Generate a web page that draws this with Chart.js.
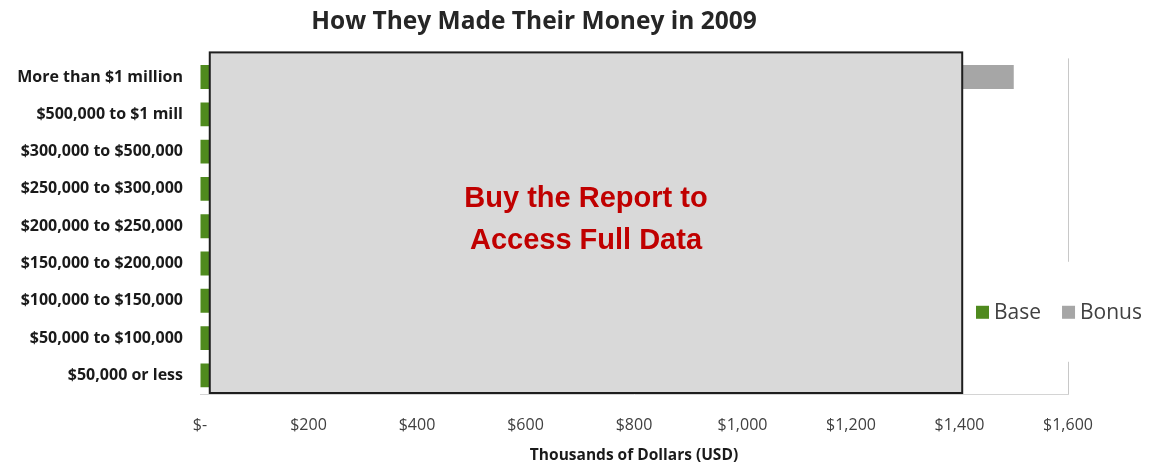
<!DOCTYPE html>
<html>
<head>
<meta charset="utf-8">
<script src="https://cdn.jsdelivr.net/npm/chart.js@4"></script>
<style>
  html, body { margin: 0; padding: 0; background: #fff; }
  #wrap { width: 1151px; height: 471px; }
</style>
</head>
<body>
<div id="wrap"><canvas id="myChart" width="1151" height="471"></canvas></div>
<script>
// salary bands, top row first
var bands = [
    "More than $1 million",
    "$500,000 to $1 mill",
    "$300,000 to $500,000",
    "$250,000 to $300,000",
    "$200,000 to $250,000",
    "$150,000 to $200,000",
    "$100,000 to $150,000",
    "$50,000 to $100,000",
    "$50,000 or less"
];
// thousands of dollars
var baseVals = [420, 330, 260, 210, 180, 150, 110, 70, 30];
var bonusVals = [1080, 340, 120, 65, 45, 28, 18, 8, 3];
var xTicks = [0, 200, 400, 600, 800, 1000, 1200, 1400, 1600];

// grey box hiding the paid data
var coverFrom = 18;
var coverTo = 1405;
var coverText = ["Buy the Report to", "Access Full Data"];

var font = "'Open Sans', Lato, sans-serif";

function money(v) {
    if (v === 0) return "$-";
    return "$" + v.toLocaleString("en-US");
}

var coverPlugin = {
    id: 'cover',
    afterDatasetsDraw: function (chart) {
        var ctx = chart.ctx;
        var x = chart.scales.x;
        var area = chart.chartArea;
        var x0 = x.getPixelForValue(coverFrom);
        var x1 = x.getPixelForValue(coverTo);
        var y0 = area.top - 6;
        var y1 = area.bottom - 1;
        ctx.save();
        ctx.fillStyle = '#d9d9d9';
        ctx.fillRect(x0, y0, x1 - x0, y1 - y0);
        ctx.strokeStyle = '#1e1e1e';
        ctx.lineWidth = 2;
        ctx.strokeRect(x0, y0, x1 - x0, y1 - y0);
        ctx.fillStyle = '#c00000';
        ctx.font = "bold 29px 'Liberation Sans', Arial, sans-serif";
        ctx.textAlign = 'center';
        ctx.textBaseline = 'middle';
        var cx = (x0 + x1) / 2;
        var cy = (y0 + y1) / 2 - 3;
        ctx.fillText(coverText[0], cx, cy - 21);
        ctx.fillText(coverText[1], cx, cy + 21);
        ctx.restore();
    }
};

// legend sits over the right edge of the plot
var legendPlugin = {
    id: 'sideLegend',
    afterDraw: function (chart) {
        var ctx = chart.ctx;
        var area = chart.chartArea;
        var cy = area.top + (area.bottom - area.top) * 0.755;
        var x = 976;
        ctx.save();
        ctx.fillStyle = '#fff';
        ctx.fillRect(970, cy - 50, 181, 100);
        ctx.font = "21px " + font;
        ctx.textBaseline = 'middle';
        chart.data.datasets.forEach(function (ds) {
            ctx.fillStyle = ds.backgroundColor;
            ctx.fillRect(x, cy - 6, 13, 13);
            ctx.fillStyle = '#404040';
            ctx.fillText(ds.label, x + 18, cy + 1);
            x += 18 + ctx.measureText(ds.label).width + 21;
        });
        ctx.restore();
    }
};

var ctx = document.getElementById('myChart').getContext('2d');
var chart = new Chart(ctx, {
    type: 'bar',
    data: {
        labels: bands,
        datasets: [{
            label: "Base",
            backgroundColor: '#4f8a1e',
            data: baseVals
        }, {
            label: "Bonus",
            backgroundColor: '#a6a6a6',
            data: bonusVals
        }]
    },
    options: {
        indexAxis: 'y',
        responsive: false,
        animation: false,
        layout: { padding: { right: 83 } },
        categoryPercentage: 1,
        barPercentage: 0.64,
        plugins: {
            legend: { display: false },
            tooltip: { enabled: false },
            title: {
                display: true,
                text: "How They Made Their Money in 2009",
                color: '#262626',
                font: { family: font, size: 24.5, weight: 'bold', lineHeight: 1.2 },
                padding: { top: 7, bottom: 22 }
            }
        },
        scales: {
            x: {
                stacked: true,
                min: 0,
                max: 1600,
                afterBuildTicks: function (scale) {
                    scale.ticks = xTicks.map(function (v) { return { value: v }; });
                },
                afterFit: function (scale) { scale.height = 77; },
                grid: {
                    drawTicks: false,
                    color: function (c) { return c.tick && c.tick.value === 1600 ? '#c8c8c8' : 'rgba(0,0,0,0)'; }
                },
                border: { display: true, color: '#d4d4d4' },
                ticks: {
                    padding: 22,
                    color: '#404040',
                    font: { family: font, size: 16 },
                    callback: function (v) { return money(v); }
                },
                title: {
                    display: true,
                    text: "Thousands of Dollars (USD)",
                    color: '#1a1a1a',
                    font: { family: font, size: 15.5, weight: 'bold' },
                    padding: { top: 0, bottom: 6 }
                }
            },
            y: {
                stacked: true,
                afterFit: function (scale) { scale.width = 200; },
                grid: { display: false, drawTicks: false },
                border: { display: false },
                ticks: {
                    padding: 17,
                    color: '#1a1a1a',
                    font: { family: font, size: 16, weight: 'bold' }
                }
            }
        }
    },
    plugins: [coverPlugin, legendPlugin]
});
</script>
</body>
</html>
